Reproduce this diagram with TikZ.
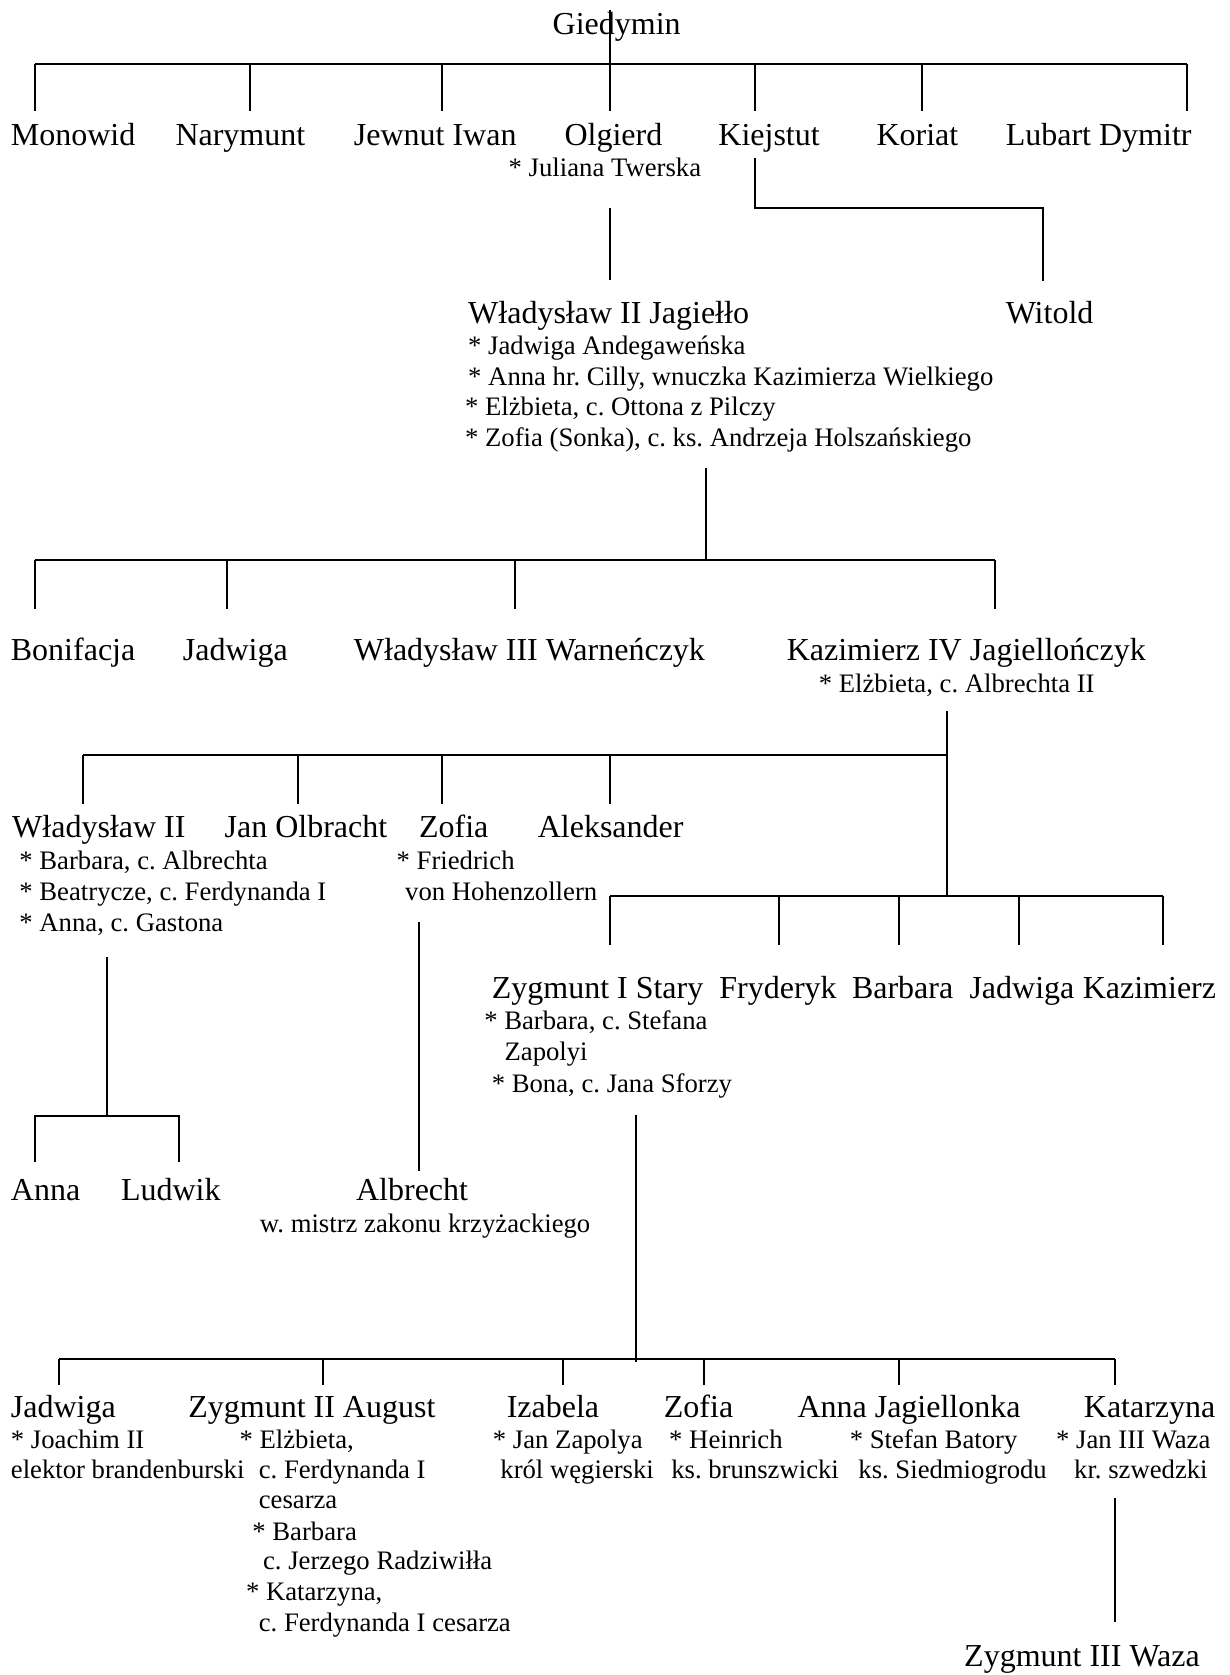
\documentclass[tikz,border=0pt]{standalone}
\usepackage{fontspec}
\setmainfont{Liberation Serif}
\frenchspacing
\begin{document}
\begin{tikzpicture}[x=1pt,y=-1pt,
  nm/.style={anchor=base west, inner sep=0pt, font=\fontsize{32}{38}\selectfont},
  sp/.style={anchor=base west, inner sep=0pt, font=\fontsize{26.7}{32}\selectfont},
  conn/.style={line width=2pt, line join=miter}]
\useasboundingbox (0,0) rectangle (1229,1675);
% ---------- generation 0/1
\node[nm] (giedymin) at (552.5,34.2) {Giedymin};
\node[nm] (monowid) at (10.7,145.3) {Monowid};
\node[nm] (narymunt) at (175.3,145.3) {Narymunt};
\node[nm] (jewnut) at (353.7,145.3) {Jewnut Iwan};
\node[nm] (olgierd) at (564.3,145.3) {Olgierd};
\node[nm] (kiejstut) at (718.2,145.3) {Kiejstut};
\node[nm] (koriat) at (876.3,145.3) {Koriat};
\node[nm] (lubart) at (1005.6,145.3) {Lubart Dymitr};
\node[sp] (olgierdsp) at (508.5,176.5) {* Juliana Twerska};
% ---------- generation 2
\node[nm] (jagiello) at (468,323.8) {Władysław II Jagiełło};
\node[nm] (witold) at (1005.6,323.8) {Witold};
\node[sp] (jsp1) at (468,354.8) {* Jadwiga Andegaweńska};
\node[sp] (jsp2) at (468,385.8) {* Anna hr. Cilly, wnuczka Kazimierza Wielkiego};
\node[sp] (jsp3) at (464.9,415.7) {* Elżbieta, c. Ottona z Pilczy};
\node[sp] (jsp4) at (464.9,446.7) {* Zofia (Sonka), c. ks. Andrzeja Holszańskiego};
% ---------- generation 3
\node[nm] (bonifacja) at (10.7,660.5) {Bonifacja};
\node[nm] (jadwiga1) at (182.7,660.5) {Jadwiga};
\node[nm] (warnenczyk) at (353.7,660.5) {Władysław III Warneńczyk};
\node[nm] (kazimierz4) at (786.6,660.5) {Kazimierz IV Jagiellończyk};
\node[sp] (ksp) at (818.6,692.5) {* Elżbieta, c. Albrechta II};
% ---------- generation 4
\node[nm] (wladyslaw2) at (12,837.9) {Władysław II};
\node[nm] (olbracht) at (224.4,837.9) {Jan Olbracht};
\node[nm] (zofia1) at (418.9,837.9) {Zofia};
\node[nm] (aleksander) at (537.6,837.9) {Aleksander};
\node[sp] (wsp1) at (19.2,869.9) {* Barbara, c. Albrechta};
\node[sp] (wsp2) at (19.2,900.9) {* Beatrycze, c. Ferdynanda I};
\node[sp] (wsp3) at (19.2,931.9) {* Anna, c. Gastona};
\node[sp] (zsp1) at (396.5,869.9) {* Friedrich};
\node[sp] (zsp2) at (405,900.9) {von Hohenzollern};
\node[nm] (zygmunt1) at (491.6,998.2) {Zygmunt I Stary};
\node[nm] (fryderyk) at (719.2,998.2) {Fryderyk};
\node[nm] (barbara1) at (851.8,998.2) {Barbara};
\node[nm] (jadwiga2) at (969.3,998.2) {Jadwiga};
\node[nm] (kazimierz) at (1082.6,998.2) {Kazimierz};
\node[sp] (zysp1) at (484.1,1029.2) {* Barbara, c. Stefana};
\node[sp] (zysp2) at (504.4,1060.2) {Zapolyi};
\node[sp] (zysp3) at (491.6,1092.2) {* Bona, c. Jana Sforzy};
% ---------- generation 5
\node[nm] (anna1) at (10.7,1200.2) {Anna};
\node[nm] (ludwik) at (120.8,1200.2) {Ludwik};
\node[nm] (albrecht) at (355.9,1200.2) {Albrecht};
\node[sp] (albrechtt) at (259.7,1232.2) {w. mistrz zakonu krzyżackiego};
\node[nm] (jadwiga3) at (10.7,1417.1) {Jadwiga};
\node[nm] (august) at (188.1,1417.1) {Zygmunt II August};
\node[nm] (izabela) at (506.6,1417.1) {Izabela};
\node[nm] (zofia2) at (663.7,1417.1) {Zofia};
\node[nm] (annaj) at (797.3,1417.1) {Anna Jagiellonka};
\node[nm] (katarzyna) at (1083.7,1417.1) {Katarzyna};
\node[sp] (j3sp1) at (10.7,1448.1) {* Joachim II};
\node[sp] (j3sp2) at (10.7,1478) {elektor brandenburski};
\node[sp] (asp1) at (239.4,1448.1) {* Elżbieta,};
\node[sp] (asp2) at (258.6,1478) {c. Ferdynanda I};
\node[sp] (asp3) at (258.6,1508) {cesarza};
\node[sp] (asp4) at (252.2,1540) {* Barbara};
\node[sp] (asp5) at (262.9,1569.9) {c. Jerzego Radziwiłła};
\node[sp] (asp6) at (245.8,1600.9) {* Katarzyna,};
\node[sp] (asp7) at (258.6,1631.9) {c. Ferdynanda I cesarza};
\node[sp] (isp1) at (492.7,1448.1) {* Jan Zapolya};
\node[sp] (isp2) at (500.2,1478) {król węgierski};
\node[sp] (z2sp1) at (669,1448.1) {* Heinrich};
\node[sp] (z2sp2) at (671.1,1478) {ks. brunszwicki};
\node[sp] (ajsp1) at (849.6,1448.1) {* Stefan Batory};
\node[sp] (ajsp2) at (858.2,1478) {ks. Siedmiogrodu};
\node[sp] (ksp1) at (1055.9,1448.1) {* Jan III Waza};
\node[sp] (ksp2) at (1074,1478) {kr. szwedzki};
\node[nm] (zygmunt3) at (964,1666.1) {Zygmunt III Waza};
% ---------- connectors
% Giedymin
\coordinate (gTop) at (610.2,10);
\coordinate (gBarL) at (35.3,64);
\coordinate (gBarR) at (1187.3,64);
\draw[conn] (gTop) -- (610.2,111);
\draw[conn] (gBarL) -- (gBarR);
\foreach \x/\n in {35.3/a,250.1/b,442.4/c,754.5/e,922.3/f,1187.3/g}{
  \coordinate (gd\n) at (\x,111);
  \draw[conn] (\x,64) -- (gd\n);
}
% Olgierd -> Jagiello
\coordinate (oTop) at (610.2,208.4);
\coordinate (oBot) at (610.2,280);
\draw[conn] (oTop) -- (oBot);
% Kiejstut -> Witold
\coordinate (kTop) at (754.5,158.2);
\coordinate (kBot) at (1043.1,281.1);
\draw[conn] (kTop) |- (1043.1,208.4) -- (kBot);
% Jagiello children
\coordinate (jTop) at (706.4,468.1);
\coordinate (jBar) at (706.4,560);
\draw[conn] (jTop) -- (jBar);
\draw[conn] (35.3,560) -- (995,560);
\foreach \x/\n in {35.3/a,226.6/b,515.1/c,995/d}{
  \coordinate (jd\n) at (\x,609.2);
  \draw[conn] (\x,560) -- (jd\n);
}
% Kazimierz IV children
\coordinate (kzTop) at (946.9,710.7);
\coordinate (kzBot) at (946.9,895.6);
\draw[conn] (kzTop) -- (kzBot);
\draw[conn] (83.4,754.5) -- (946.9,754.5);
\foreach \x/\n in {83.4/a,298.2/b,442.4/c,610.2/d}{
  \coordinate (kd\n) at (\x,803.7);
  \draw[conn] (\x,754.5) -- (kd\n);
}
\draw[conn] (610.2,895.6) -- (1162.7,895.6);
\foreach \x/\n in {610.2/a,779.1/b,898.8/c,1018.5/d,1162.7/e}{
  \coordinate (ke\n) at (\x,944.7);
  \draw[conn] (\x,895.6) -- (ke\n);
}
% Wladyslaw II children
\coordinate (wTop) at (106.9,957);
\coordinate (wBar) at (106.9,1115.7);
\draw[conn] (wTop) -- (wBar);
\coordinate (wdA) at (35.3,1162);
\coordinate (wdB) at (178.5,1162);
\draw[conn] (wdA) -- (35.3,1115.7) -- (178.5,1115.7) -- (wdB);
% Zofia -> Albrecht
\coordinate (zTop) at (418.5,921.7);
\coordinate (zBot) at (418.5,1171.3);
\draw[conn] (zTop) -- (zBot);
% Zygmunt I children
\coordinate (zyTop) at (635.9,1114.7);
\coordinate (zyBot) at (635.9,1361.5);
\draw[conn] (zyTop) -- (zyBot);
\draw[conn] (58.8,1359) -- (1114.7,1359);
\foreach \x/\n in {58.8/a,322.7/b,563.2/c,704.3/d,898.8/e,1114.7/f}{
  \coordinate (zd\n) at (\x,1385);
  \draw[conn] (\x,1359) -- (zd\n);
}
% Katarzyna -> Zygmunt III
\coordinate (kaTop) at (1114.7,1498.3);
\coordinate (kaBot) at (1114.7,1622.3);
\draw[conn] (kaTop) -- (kaBot);
\end{tikzpicture}
\end{document}
